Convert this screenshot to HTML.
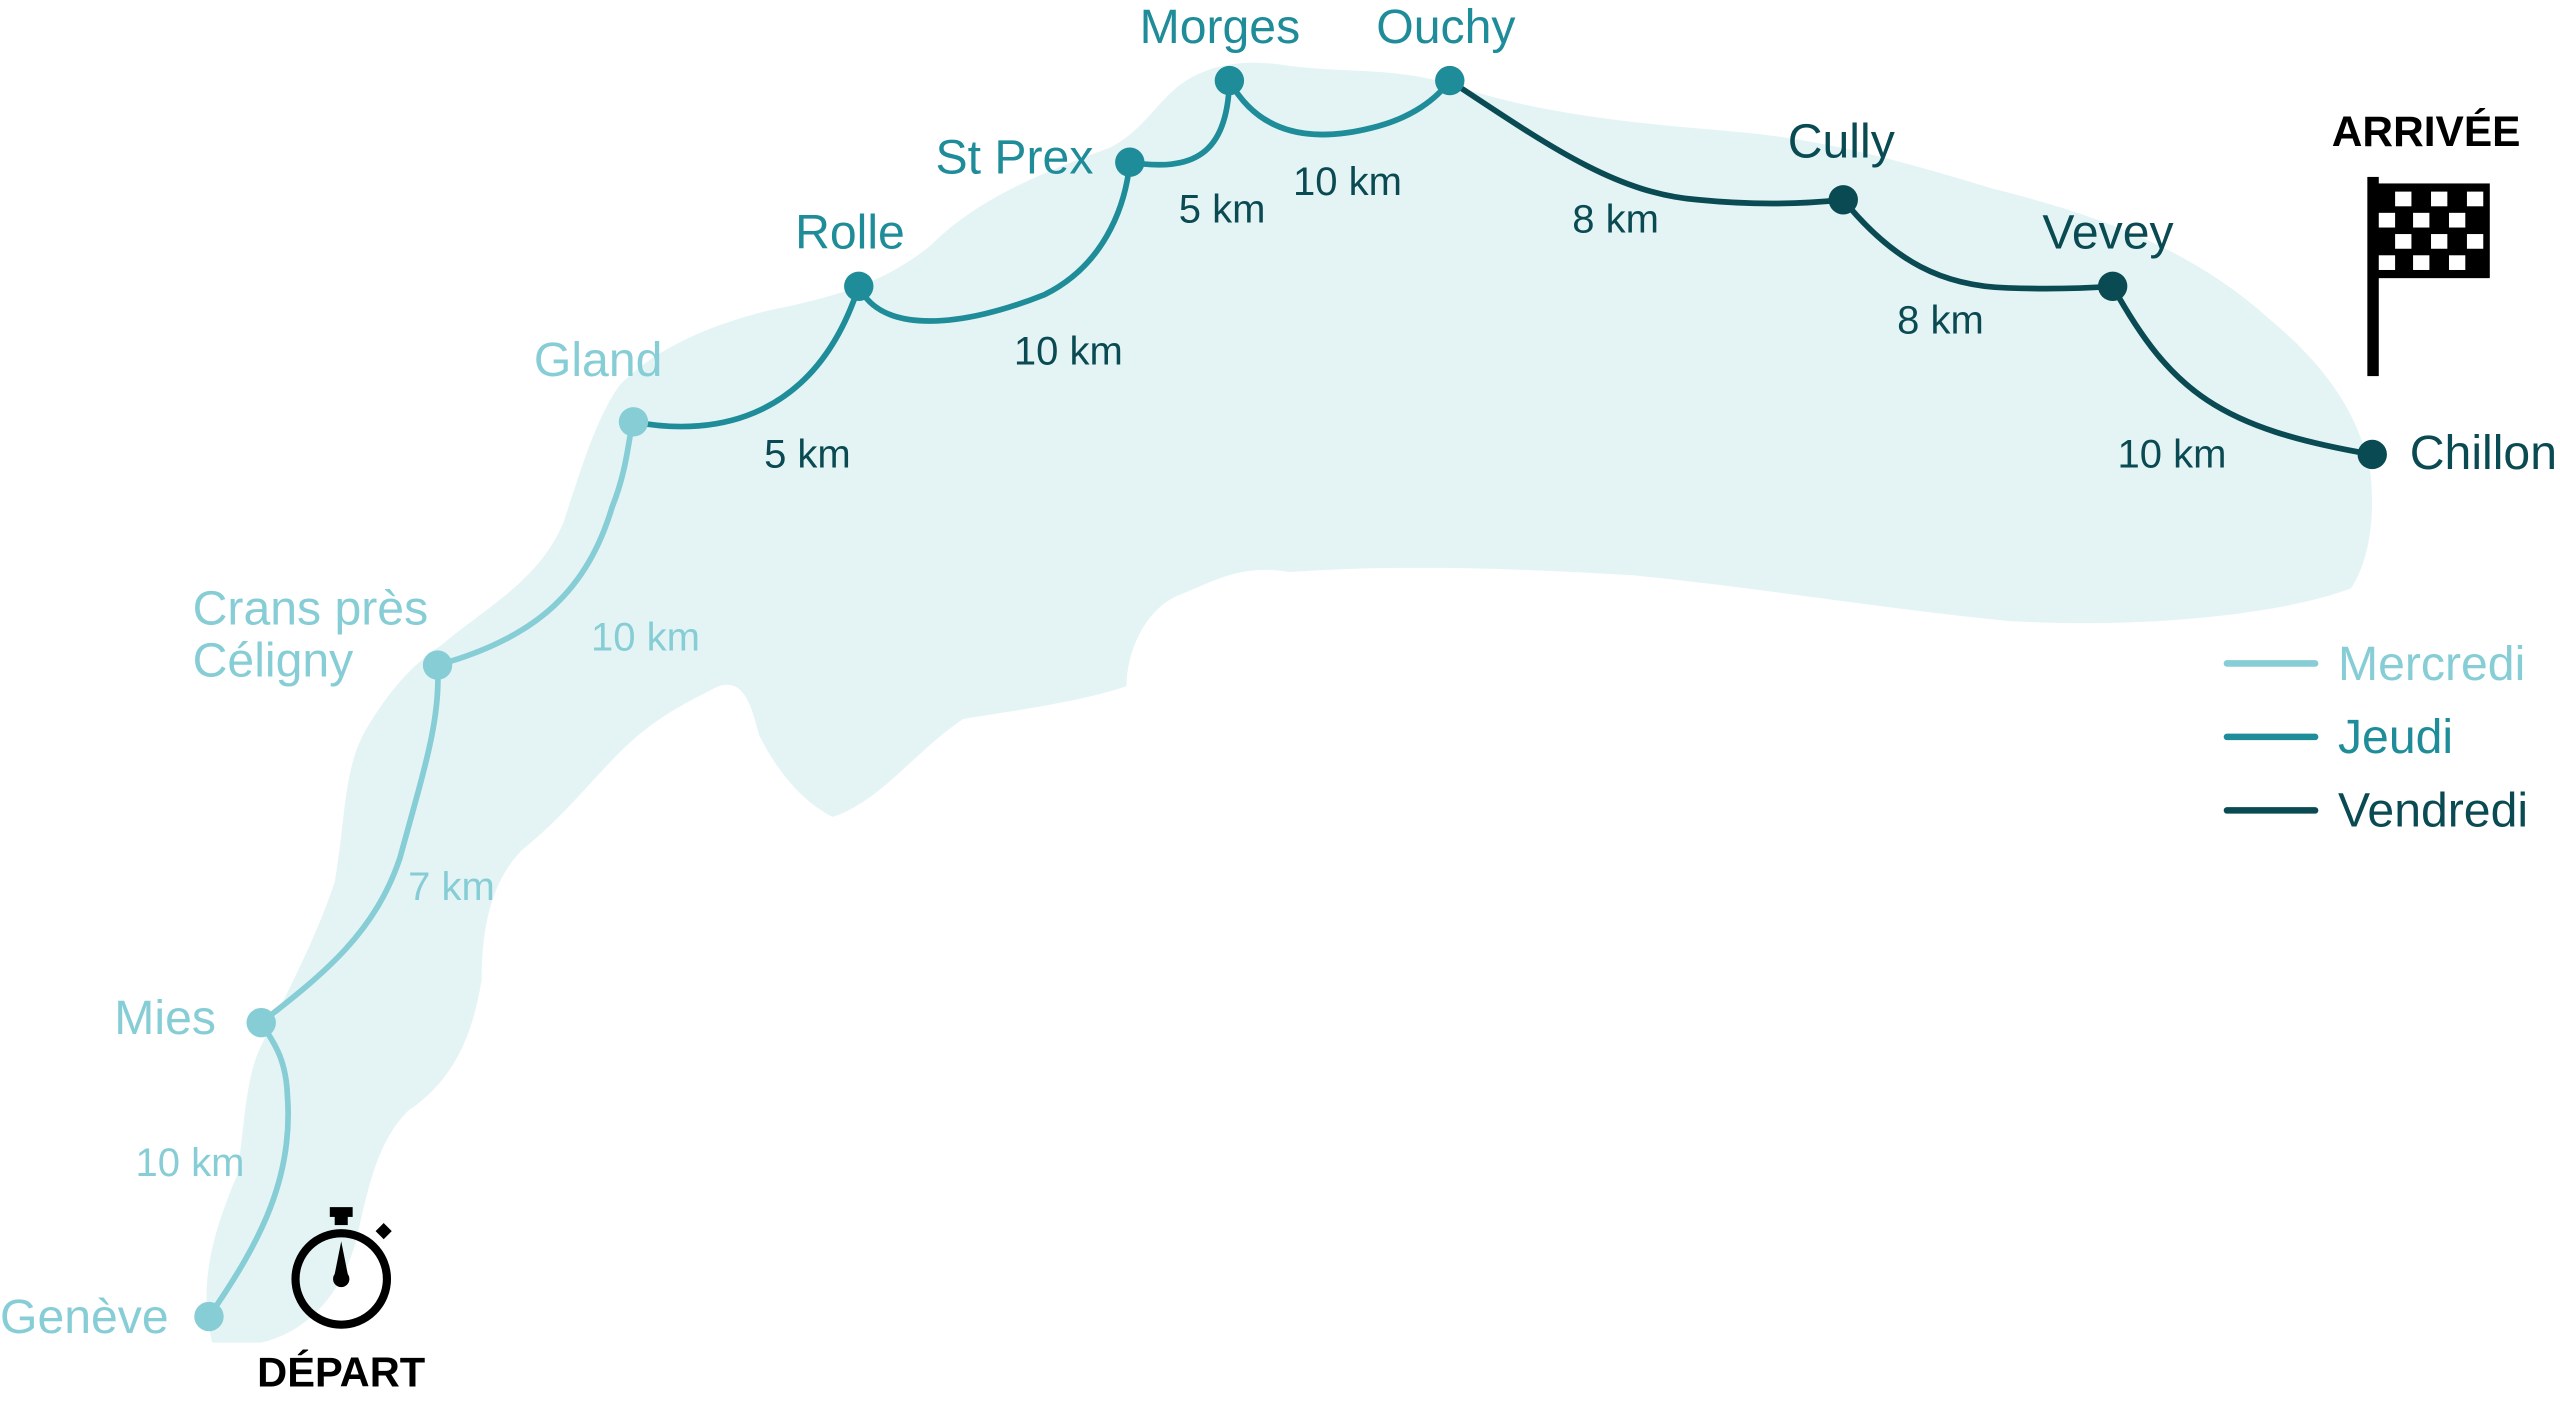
<!DOCTYPE html>
<html><head><meta charset="utf-8"><style>
html,body{margin:0;padding:0;background:#fff;}
svg{display:block;}
text{font-family:"Liberation Sans",sans-serif;}
</style></head><body>
<svg width="2560" height="1402" viewBox="0 0 1568 858" xmlns="http://www.w3.org/2000/svg">
<path fill="#e4f4f4" d="M130,822 C122,790 128,760 145,720 C150,690 150,660 160,640 C180,600 195,570 205,540 C212,500 210,470 225,445 C240,420 255,405 270,395 C300,370 330,355 345,320 C355,290 365,255 380,235 C400,215 430,200 470,190 C520,180 545,170 570,150 C600,120 640,105 680,90 C700,80 710,60 725,50 C740,40 760,35 790,40 C830,45 860,40 900,55 C950,70 1000,75 1060,80 C1120,85 1170,100 1220,115 C1280,130 1340,150 1390,195 C1420,220 1445,250 1452,290 C1455,320 1450,345 1440,360 C1400,375 1320,385 1230,380 C1150,372 1080,360 1000,352 C930,348 860,345 790,350 C760,345 745,355 720,365 C700,375 690,400 690,420 C660,430 620,435 590,440 C560,460 540,490 510,500 C490,490 475,470 465,450 C460,430 455,415 440,420 C420,430 400,440 380,460 C360,480 345,500 320,520 C300,540 295,570 295,600 C290,630 280,660 250,680 C230,700 225,730 218,760 C210,790 190,815 160,822 Z"/>
<g fill="none" stroke-width="3.5" stroke-linecap="round">
<path stroke="#86cdd6" d="M128,806 C160,760 180,720 176,670 C175,645 165,635 160,626 C200,595 230,570 245,525 C260,470 270,440 268,407 C330,390 360,360 375,310 C385,285 385,265 388,258"/>
<path stroke="#1e8c99" d="M388,258 C440,268 500,255 526,175 C540,205 590,200 640,180 C680,160 690,120 692,99 C730,105 752,95 753,49 C770,80 800,88 840,78 C865,72 880,60 888,49"/>
<path stroke="#0a4a52" d="M888,49 C950,90 990,118 1040,122 C1080,126 1110,124 1129,122 C1160,160 1190,175 1230,176 C1260,177 1280,176 1294,175 C1330,240 1360,262 1453,278"/>
</g>
<g>
<circle cx="128" cy="806" r="9" fill="#86cdd6"/><circle cx="160" cy="626" r="9" fill="#86cdd6"/>
<circle cx="268" cy="407" r="9" fill="#86cdd6"/><circle cx="388" cy="258" r="9" fill="#86cdd6"/>
<circle cx="526" cy="175" r="9" fill="#1e8c99"/><circle cx="692" cy="99" r="9" fill="#1e8c99"/>
<circle cx="753" cy="49" r="9" fill="#1e8c99"/><circle cx="888" cy="49" r="9" fill="#1e8c99"/>
<circle cx="1129" cy="122" r="9" fill="#0a4a52"/><circle cx="1294" cy="175" r="9" fill="#0a4a52"/>
<circle cx="1453" cy="278" r="9" fill="#0a4a52"/>
</g>
<g font-size="29.5">
<text x="0" y="816" fill="#86cdd6">Genève</text>
<text x="70" y="633" fill="#86cdd6">Mies</text>
<text x="118" y="382" fill="#86cdd6">Crans près</text>
<text x="118" y="414" fill="#86cdd6">Céligny</text>
<text x="327" y="230" fill="#86cdd6">Gland</text>
<text x="487" y="152" fill="#1e8c99">Rolle</text>
<text x="573" y="106" fill="#1e8c99">St Prex</text>
<text x="698" y="26" fill="#1e8c99">Morges</text>
<text x="843" y="26" fill="#1e8c99">Ouchy</text>
<text x="1095" y="96" fill="#0a4a52">Cully</text>
<text x="1251" y="152" fill="#0a4a52">Vevey</text>
<text x="1476" y="287" fill="#0a4a52">Chillon</text>
</g>
<g font-size="24.5">
<text x="83" y="720" fill="#86cdd6">10 km</text>
<text x="250" y="551" fill="#86cdd6">7 km</text>
<text x="362" y="398" fill="#86cdd6">10 km</text>
<text x="468" y="286" fill="#0a4a52">5 km</text>
<text x="621" y="223" fill="#0a4a52">10 km</text>
<text x="722" y="136" fill="#0a4a52">5 km</text>
<text x="792" y="119" fill="#0a4a52">10 km</text>
<text x="963" y="142" fill="#0a4a52">8 km</text>
<text x="1162" y="204" fill="#0a4a52">8 km</text>
<text x="1297" y="286" fill="#0a4a52">10 km</text>
</g>
<g stroke-width="4" stroke-linecap="round">
<line x1="1364" y1="406" x2="1418" y2="406" stroke="#86cdd6"/>
<line x1="1364" y1="451" x2="1418" y2="451" stroke="#1e8c99"/>
<line x1="1364" y1="496" x2="1418" y2="496" stroke="#0a4a52"/>
</g>
<g font-size="29.5">
<text x="1432" y="416" fill="#86cdd6">Mercredi</text>
<text x="1432" y="461" fill="#1e8c99">Jeudi</text>
<text x="1432" y="506" fill="#0a4a52">Vendredi</text>
</g>
<text x="1486" y="89" font-size="26" font-weight="bold" text-anchor="middle" fill="#000">ARRIVÉE</text>
<rect x="1450" y="108" width="7" height="122" fill="#000"/>
<g>
<rect x="1455" y="112" width="70" height="58" fill="#000"/>
<g fill="#fff">
<rect x="1467" y="117" width="10" height="9"/><rect x="1489" y="117" width="10" height="9"/><rect x="1511" y="117" width="10" height="9"/>
<rect x="1457" y="130" width="10" height="9"/><rect x="1478" y="130" width="10" height="9"/><rect x="1500" y="130" width="10" height="9"/>
<rect x="1467" y="143" width="10" height="9"/><rect x="1489" y="143" width="10" height="9"/><rect x="1511" y="143" width="10" height="9"/>
<rect x="1457" y="156" width="10" height="9"/><rect x="1478" y="156" width="10" height="9"/><rect x="1500" y="156" width="10" height="9"/>
</g>
</g>
<g>
<rect x="202" y="739" width="14" height="6" fill="#000"/>
<rect x="205" y="744" width="8" height="6" fill="#000"/>
<circle cx="209" cy="783" r="28" fill="none" stroke="#000" stroke-width="5"/>
<path d="M209,760 L213,780 A5,5 0 1 1 205,780 Z" fill="#000"/>
<rect x="232" y="750" width="7" height="7" fill="#000" transform="rotate(45 235 753)"/>
</g>
<text x="209" y="849" font-size="25.5" font-weight="bold" text-anchor="middle" fill="#000">DÉPART</text>
</svg>
</body></html>
